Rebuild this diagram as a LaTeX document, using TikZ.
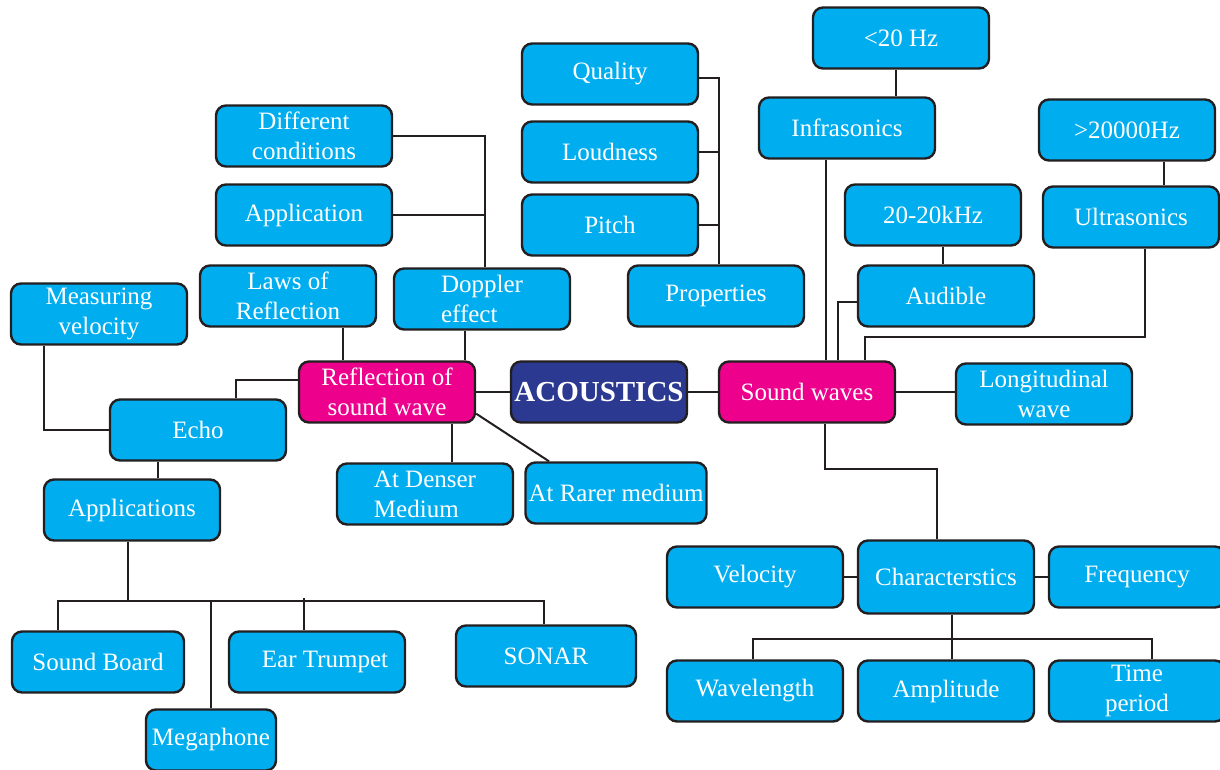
\documentclass[tikz,border=0pt]{standalone}
\usepackage{fontspec}
\setmainfont{Liberation Serif}
\usetikzlibrary{calc}
\definecolor{leafcyan}{HTML}{00AEEF}
\definecolor{hubpink}{HTML}{EC008C}
\definecolor{corenavy}{HTML}{2B3990}
\definecolor{inkline}{HTML}{231F20}
\tikzset{
  leaf/.style={draw=inkline, line width=1.2pt, fill=leafcyan, rounded corners=5pt,
    text=white, inner sep=0pt, align=center, minimum width=88pt, minimum height=30.5pt,
    font=\fontsize{12.5}{15}\selectfont},
  hub/.style={leaf, fill=hubpink},
  core/.style={leaf, fill=corenavy, font=\fontsize{14.5}{16}\selectfont\bfseries},
  link/.style={draw=inkline, line width=1pt}
}

\begin{document}
\begin{tikzpicture}[x=0.5pt,y=-0.5pt]
  \useasboundingbox (0,0) rectangle (1220,770);

  % centre
  \node[core] (acoustics) at (599,392) {ACOUSTICS};
  \node[hub] (refl) at (387,392) {Reflection of\\sound wave};
  \node[hub] (sound) at (807,392) {Sound waves};

  % reflection side
  \node[leaf] (diffc) at (304,136) {Different\\conditions};
  \node[leaf] (appl) at (304,215) {Application};
  \node[leaf] (laws) at (288,296) {Laws of\\Reflection};
  \node[leaf] (measv) at (99,314) {Measuring\\velocity};
  \node[leaf, align=left] (doppler) at (482,299) {Doppler\\effect};
  \node[leaf] (echo) at (198,430) {Echo};
  \node[leaf] (apps) at (132,510) {Applications};
  \node[leaf, align=left] (denser) at (425,494) {At Denser\\Medium};
  \node[leaf, minimum width=90.5pt] (rarer) at (616,493) {At Rarer medium};
  \node[leaf, minimum width=86pt] (sboard) at (98,662) {Sound Board};
  \node[leaf, minimum width=65pt] (megaph) at (211,740) {Megaphone};
  \node[leaf] (eart) at (317,662) {\hspace*{8pt}Ear Trumpet};
  \node[leaf, minimum width=90pt] (sonar) at (546,656) {SONAR};

  % properties
  \node[leaf] (quality) at (610,74) {Quality};
  \node[leaf] (loud) at (610,152) {Loudness};
  \node[leaf] (pitch) at (610,225) {Pitch};
  \node[leaf] (props) at (716,296) {Properties};

  % sound waves side
  \node[leaf] (lt20) at (901,38) {<20 Hz};
  \node[leaf] (infra) at (847,128) {Infrasonics};
  \node[leaf] (gt20k) at (1127,130) {>20000Hz};
  \node[leaf] (ultra) at (1131,217) {Ultrasonics};
  \node[leaf] (audrange) at (933,215) {20-20kHz};
  \node[leaf] (audible) at (946,296) {Audible};
  \node[leaf] (longw) at (1044,394) {Longitudinal\\wave};
  \node[leaf] (velocity) at (755,577) {Velocity};
  \node[leaf, minimum height=36.5pt] (charac) at (946,577) {Characterstics};
  \node[leaf] (freq) at (1137,577) {Frequency};
  \node[leaf] (wavel) at (755,691) {Wavelength};
  \node[leaf] (ampl) at (946,691) {Amplitude};
  \node[leaf] (tperiod) at (1137,691) {Time\\period};

  % reflection links
  \draw[link] (refl.east) -- (acoustics.west);
  \draw[link] (diffc.east) -| ($(doppler.north)+(3,0)$);
  \draw[link] (appl.east) -- ($(appl.east)+(93,0)$);
  \draw[link] ($(laws.south)+(55,0)$) -- ($(refl.north)+(-44,0)$);
  \draw[link] ($(doppler.south)+(-17,0)$) -- ($(refl.north)+(78,0)$);
  \draw[link] ($(refl.west)+(0,-12)$) -| ($(echo.north)+(38,0)$);
  \draw[link] ($(measv.south)+(-55,0)$) |- (echo.west);
  \draw[link] ($(echo.south)+(-40,0)$) -- ($(apps.north)+(26,0)$);
  \draw[link] ($(refl.south)+(65,0)$) -- ($(denser.north)+(27,0)$);
  \draw[link] ($(refl.south east)+(0,-10)$) -- ($(rarer.north)+(-67,0)$);

  % echo applications
  \coordinate (abus) at ($(apps.south)+(-4,59)$);
  \draw[link] ($(apps.south)+(-4,0)$) -- (abus);
  \draw[link] ($(sboard.north)+(-40,0)$) |- (abus) -| ($(sonar.north)+(-2,0)$);
  \draw[link] (megaph.north) -- (megaph.north |- abus);
  \draw[link] ($(eart.north)+(-13,0)$) -- ($(eart.north)+(-13,-32)$);

  % properties
  \draw[link] ($(quality.east)+(0,4)$) -| ($(props.north)+(3,0)$);
  \draw[link] (loud.east) -- ($(loud.east)+(21,0)$);
  \draw[link] (pitch.east) -- ($(pitch.east)+(21,0)$);

  % sound waves links
  \draw[link] (acoustics.east) -- (sound.west);
  \draw[link] (sound.east) -- (longw.west |- sound.east);
  \draw[link] ($(lt20.south)+(-5,0)$) -- ($(infra.north)+(49,0)$);
  \draw[link] ($(infra.south)+(-21,0)$) -- ($(sound.north)+(19,0)$);
  \draw[link] ($(audrange.south)+(10,0)$) -- ($(audible.north)+(-3,0)$);
  \draw[link] ($(audible.west)+(0,6)$) -| ($(sound.north)+(31,0)$);
  \draw[link] ($(gt20k.south)+(37,0)$) -- ($(ultra.north)+(33,0)$);
  \draw[link] ($(ultra.south)+(14,0)$) |- ($(sound.north)+(58,-23)$) -- ($(sound.north)+(58,0)$);

  % characteristics
  \draw[link] ($(sound.south)+(18,0)$) |- ($(charac.north)+(-9,-70)$) -- ($(charac.north)+(-9,0)$);
  \draw[link] (velocity.east) -- (charac.west |- velocity.east);
  \draw[link] (charac.east) -- (freq.west |- charac.east);
  \draw[link] ($(charac.south)+(6,0)$) -- ($(ampl.north)+(6,0)$);
  \draw[link] ($(wavel.north)+(-2,0)$) |- ($(charac.south)+(6,24)$) -| ($(tperiod.north)+(15,0)$);
\end{tikzpicture}
\end{document}
